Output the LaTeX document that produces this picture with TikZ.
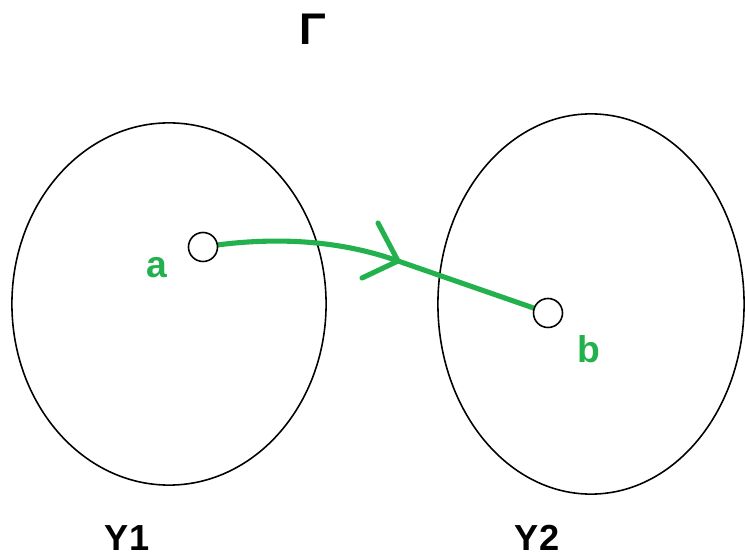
\documentclass[tikz,border=0pt]{standalone}
\usepackage{fontspec}
\setmainfont{Liberation Sans}
\usetikzlibrary{shapes.geometric,positioning}
\definecolor{paintgreen}{RGB}{34,177,76}

\tikzset{
  region/.style={draw=black, ellipse, line width=0.45pt, inner sep=0pt},
  pointnode/.style={draw=black, circle, fill=white, line width=0.45pt, minimum size=0.29cm, inner sep=0pt},
  setlabel/.style={font=\fontsize{10.3}{12}\selectfont\bfseries, text=black},
  ptlabel/.style={font=\fontsize{10.6}{12}\selectfont\bfseries, text=paintgreen},
  pathline/.style={draw=paintgreen, line width=1.45pt}
}

\begin{document}
\begin{tikzpicture}[x=0.01cm, y=-0.01cm]
    \useasboundingbox (0,0) rectangle (745,555);

    \node[region, minimum width=3.14cm, minimum height=3.62cm] (Y1r) at (169,304) {};
    \node[region, minimum width=3.06cm, minimum height=3.80cm] (Y2r) at (591,304) {};

    \node[font=\fontsize{12.6}{14}\selectfont\bfseries] (G) at (313,29) {Γ};
    \node[setlabel] (Y1) at (127,538) {Y1};
    \node[setlabel] (Y2) at (537,538) {Y2};

    \coordinate (tip) at (398,261);
    \coordinate (armup) at (378,223);
    \coordinate (armdown) at (362,278);

    \draw[pathline] (203,247) .. controls (280,235) and (345,242) .. (tip) -- (548,313);
    \draw[pathline, line cap=round] (armup) -- (tip) -- (armdown);

    \node[pointnode] (a) at (203,247) {};
    \node[pointnode] (b) at (548,313) {};
    \node[ptlabel] (alab) at (157,268) {a};
    \node[ptlabel] (blab) at (589,349) {b};
  \end{tikzpicture}
\end{document}
